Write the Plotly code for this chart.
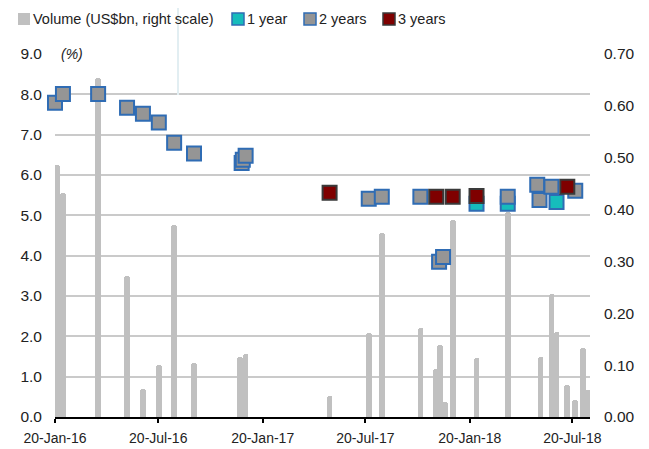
import plotly.graph_objects as go

# ---------------- data ----------------
vol_dates = ["2016-01-23", "2016-02-03", "2016-04-05", "2016-05-26", "2016-06-23",
             "2016-07-21", "2016-08-17", "2016-09-21", "2016-12-11", "2016-12-21",
             "2017-05-18", "2017-07-26", "2017-08-18", "2017-10-25", "2017-11-22",
             "2017-11-29", "2017-12-08", "2017-12-21", "2018-02-01", "2018-03-28",
             "2018-05-25", "2018-06-13", "2018-06-22", "2018-07-11", "2018-07-25",
             "2018-08-08", "2018-08-17"]
vol_values = [0.486, 0.432, 0.654, 0.272, 0.054,
              0.100, 0.370, 0.104, 0.116, 0.121,
              0.040, 0.162, 0.355, 0.172, 0.093,
              0.139, 0.029, 0.380, 0.114, 0.395,
              0.116, 0.237, 0.164, 0.062, 0.033,
              0.133, 0.052]

y1_dates = ["2018-02-01", "2018-03-28", "2018-06-22"]
y1_values = [5.29, 5.29, 5.33]

y2_dates = ["2016-01-20", "2016-02-03", "2016-04-05", "2016-05-26", "2016-06-23",
            "2016-07-21", "2016-08-17", "2016-09-21", "2016-12-14", "2016-12-16",
            "2016-12-21", "2017-07-26", "2017-08-18", "2017-10-25", "2017-11-27",
            "2017-12-04", "2018-03-28", "2018-05-19", "2018-05-23", "2018-06-13",
            "2018-07-25"]
y2_values = [7.79, 8.01, 8.01, 7.67, 7.52,
             7.30, 6.80, 6.53, 6.30, 6.38,
             6.48, 5.41, 5.46, 5.46, 3.85,
             3.97, 5.46, 5.76, 5.38, 5.71,
             5.61]

y3_dates = ["2017-05-18", "2017-11-22", "2017-12-21", "2018-02-01", "2018-07-11"]
y3_values = [5.56, 5.46, 5.46, 5.48, 5.71]

x_tickvals = ["2016-01-20", "2016-07-20", "2017-01-20", "2017-07-20", "2018-01-20", "2018-07-20"]
x_ticktext = ["20-Jan-16", "20-Jul-16", "20-Jan-17", "20-Jul-17", "20-Jan-18", "20-Jul-18"]
left_ticks = [0, 1, 2, 3, 4, 5, 6, 7, 8, 9]
right_ticks = [0.0, 0.1, 0.2, 0.3, 0.4, 0.5, 0.6, 0.7]

legend_labels = ["Volume (US$bn, right scale)", "1 year", "2 years", "3 years"]

# ---------------- style ----------------
FONT = "Liberation Sans, Arial, sans-serif"
TXT = "#222222"
BAR_C = "#c0c0c0"
GRAY_C = "#959595"
BLUE_C = "#2f6cb4"
TEAL_C = "#16bcbc"
RED_C = "#7f0000"
RED_LINE = "#3a3a3a"
DAY_MS = 86400000

# the page has the default 8px body margin
OFF = 8
W, H = 649, 449
L, R, T, B = 55, 59, 54, 32          # target plot box in page pixels
PW, PH = W - L - R, H - T - B        # 535 x 363
FIG_W = W - OFF
FIG_H = H - OFF
M_L, M_T = L - OFF, T - OFF
M_R = FIG_W - M_L - PW
M_B = FIG_H - M_T - PH


def px_x(px):
    return (px - L) / PW


def px_y(py):
    return (T + PH - py) / PH


fig = go.Figure()

fig.add_trace(go.Bar(
    x=vol_dates, y=vol_values, yaxis="y", name=legend_labels[0],
    width=10 * DAY_MS, marker=dict(color=BAR_C, line=dict(width=0), cornerradius=3),
    showlegend=False))

fig.add_trace(go.Scatter(
    x=y1_dates, y=y1_values, yaxis="y2", mode="markers", name=legend_labels[1],
    marker=dict(symbol="square", size=14, color=TEAL_C, line=dict(color=BLUE_C, width=2)),
    cliponaxis=False, showlegend=False))
fig.add_trace(go.Scatter(
    x=y2_dates, y=y2_values, yaxis="y2", mode="markers", name=legend_labels[2],
    marker=dict(symbol="square", size=14, color=GRAY_C, line=dict(color=BLUE_C, width=2)),
    cliponaxis=False, showlegend=False))
fig.add_trace(go.Scatter(
    x=y3_dates, y=y3_values, yaxis="y2", mode="markers", name=legend_labels[3],
    marker=dict(symbol="square", size=14, color=RED_C, line=dict(color=RED_LINE, width=2)),
    cliponaxis=False, showlegend=False))

shapes = []
annotations = []

# faint vertical cursor line seen in the original
shapes.append(dict(type="line", xref="paper", yref="paper",
                   x0=px_x(178), x1=px_x(178), y0=px_y(OFF), y1=px_y(95),
                   line=dict(color="#e2eef2", width=2)))

# manual legend
leg_items = [
    (17, BAR_C, BAR_C, 0),
    (231, TEAL_C, BLUE_C, 1),
    (303, GRAY_C, BLUE_C, 2),
    (382, RED_C, RED_LINE, 3),
]
for x0, fc, lc, i in leg_items:
    shapes.append(dict(type="rect", xref="paper", yref="paper",
                       x0=px_x(x0 + 1), x1=px_x(x0 + 13), y0=px_y(25), y1=px_y(13),
                       fillcolor=fc, line=dict(color=lc, width=1.5 if i else 0)))
    annotations.append(dict(xref="paper", yref="paper", x=px_x(x0 + 14), y=px_y(19),
                            xanchor="left", yanchor="middle", showarrow=False,
                            text=legend_labels[i], font=dict(family=FONT, size=14.5, color=TXT)))

# (%) label
annotations.append(dict(xref="paper", yref="paper", x=px_x(72), y=1.0,
                        xanchor="center", yanchor="middle", showarrow=False,
                        text="<i>(%)</i>", bgcolor="white", borderpad=5,
                        font=dict(family=FONT, size=14, color=TXT)))

fig.update_layout(
    width=FIG_W, height=FIG_H,
    margin=dict(l=M_L, r=M_R, t=M_T, b=M_B, pad=0, autoexpand=False),
    paper_bgcolor="white", plot_bgcolor="white",
    barmode="overlay", bargap=0,
    font=dict(family=FONT, size=15, color=TXT),
    showlegend=False,
    xaxis=dict(type="date", range=["2016-01-20", "2018-08-20"], automargin=False,
               tickvals=x_tickvals, ticktext=x_ticktext,
               showgrid=False, showline=True, linecolor="#000000", linewidth=2,
               ticks="outside", ticklen=4, tickwidth=2, tickcolor="#000000",
               ticklabelstandoff=3,
               tickfont=dict(family=FONT, size=14, color=TXT), zeroline=False),
    yaxis=dict(side="right", range=[0, 0.7], tickvals=right_ticks, tickformat=".2f",
               automargin=False,
               showgrid=False, zeroline=False, showline=False, ticks="",
               ticklabelstandoff=13,
               tickfont=dict(family=FONT, size=15.5, color=TXT)),
    yaxis2=dict(side="left", overlaying="y", range=[0, 9], tickvals=left_ticks, tickformat=".1f",
                automargin=False,
                showgrid=True, gridcolor="#cacaca", gridwidth=2, zeroline=False,
                showline=False, ticks="", ticklabelstandoff=12,
                tickfont=dict(family=FONT, size=15.5, color=TXT)),
    shapes=shapes, annotations=annotations,
)

fig.write_html("out.html")
